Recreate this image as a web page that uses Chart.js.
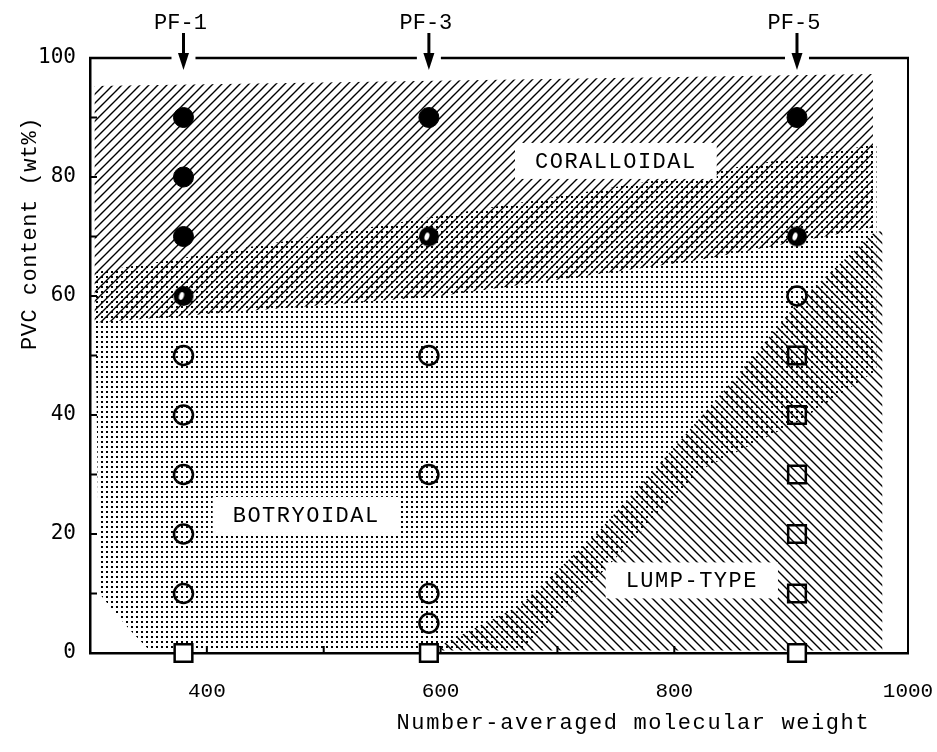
<!DOCTYPE html>
<html>
<head>
<meta charset="utf-8">
<title>PVC content vs molecular weight</title>
<script src="https://cdn.jsdelivr.net/npm/chart.js@4.4.1/dist/chart.umd.min.js"></script>
<style>
  html, body { margin: 0; padding: 0; background: #fff; }
  #wrap { width: 937px; height: 752px; }
</style>
</head>
<body>
<div id="wrap"><canvas id="chart"></canvas></div>
<script>
// grades and their number-averaged molecular weight
const grades = ['PF-1', 'PF-3', 'PF-5'];
const gradeWeights = [380, 590, 905];

// PVC content (wt%) of each sample, grouped by particle form
const coralloidalPvc = [[90, 80, 70], [90], [90]];
const transitionPvc = [[60], [70], [70]];
const botryoidalPvc = [[50, 40, 30, 20, 10], [50, 30, 10, 5], [60]];
const lumpPvc = [[0], [0], [50, 40, 30, 20, 10, 0]];

// axis labels
const xLabels = [400, 600, 800, 1000];
const yLabels = [0, 20, 40, 60, 80, 100];

// shaded regions, [molecular weight, wt%]
const coralloidalRegion = [[304, 95.3], [970, 97.3], [970, 71.5], [820, 66], [600, 60], [304, 55.5]];
const botryoidalRegion = [[304, 64], [973, 85.5], [973, 47.5], [907, 39], [822, 30.7], [736, 13.1], [668, 0.4], [351, 0.4], [334, 3.9], [321, 6.9], [308, 10]];
const lumpRegion = [[591, 0.4], [668, 8], [736, 20.6], [805, 35.7], [850, 45.8], [907, 59.2], [970, 70.5], [978, 71], [978, 0.4]];

// region names and where they sit
const regionNames = ['CORALLOIDAL', 'BOTRYOIDAL', 'LUMP-TYPE'];
const regionNameX = [750, 485, 815];
const regionNameY = [82.7, 23.2, 12.2];

const MONO = '"Liberation Mono", "DejaVu Sans Mono", monospace';

function toPoints(lists) {
    return lists.flatMap((vals, i) => vals.map(v => ({ x: gradeWeights[i], y: v })));
}

// 模式瓦片
function tile(size, draw) {
    const c = document.createElement('canvas');
    c.width = c.height = size;
    draw(c.getContext('2d'), size);
    return c;
}
const slashTile = tile(9, (g, s) => {
    g.strokeStyle = '#000';
    g.lineWidth = 1.4;
    g.beginPath();
    g.moveTo(-1, s + 1); g.lineTo(s + 1, -1);
    g.moveTo(-1, 1); g.lineTo(1, -1);
    g.moveTo(s - 1, s + 1); g.lineTo(s + 1, s - 1);
    g.stroke();
});
const backTile = tile(9, (g, s) => {
    g.strokeStyle = '#000';
    g.lineWidth = 1.4;
    g.beginPath();
    g.moveTo(-1, -1); g.lineTo(s + 1, s + 1);
    g.moveTo(s - 1, -1); g.lineTo(s + 1, 1);
    g.moveTo(-1, s - 1); g.lineTo(1, s + 1);
    g.stroke();
});
const dotTile = tile(5, (g) => {
    g.fillStyle = '#000';
    g.fillRect(1, 1, 2, 2);
});

// 半涂黑的点
const halfDot = tile(22, (g) => {
    g.fillStyle = '#000';
    g.beginPath(); g.arc(11, 11, 10, 0, Math.PI * 2); g.fill();
    g.fillStyle = '#fff';
    g.beginPath(); g.ellipse(9, 11, 2.3, 4, 0.3, 0, Math.PI * 2); g.fill();
});

function fillRegion(chart, region, pattern) {
    const { ctx, scales: { x, y } } = chart;
    ctx.beginPath();
    region.forEach(([vx, vy], i) => {
        const px = x.getPixelForValue(vx), py = y.getPixelForValue(vy);
        if (i === 0) ctx.moveTo(px, py); else ctx.lineTo(px, py);
    });
    ctx.closePath();
    ctx.fillStyle = pattern;
    ctx.fill();
}

const regionsPlugin = {
    id: 'regions',
    beforeDatasetsDraw(chart) {
        const { ctx, chartArea: a, scales: { x, y } } = chart;
        ctx.save();
        ctx.beginPath();
        ctx.rect(a.left, a.top, a.width, a.height);
        ctx.clip();
        fillRegion(chart, botryoidalRegion, ctx.createPattern(dotTile, 'repeat'));
        fillRegion(chart, coralloidalRegion, ctx.createPattern(slashTile, 'repeat'));
        fillRegion(chart, lumpRegion, ctx.createPattern(backTile, 'repeat'));

        // 区域名称
        ctx.font = '22px ' + MONO;
        ctx.letterSpacing = '1.5px';
        ctx.textAlign = 'center';
        ctx.textBaseline = 'middle';
        regionNames.forEach((name, i) => {
            const px = x.getPixelForValue(regionNameX[i]);
            const py = y.getPixelForValue(regionNameY[i]);
            const w = ctx.measureText(name).width;
            ctx.fillStyle = '#fff';
            ctx.fillRect(px - w / 2 - 20, py - 18, w + 40, 36);
            ctx.fillStyle = '#000';
            ctx.fillText(name, px, py + 1);
        });
        ctx.letterSpacing = '0px';

        // 内向刻度
        ctx.strokeStyle = '#000';
        ctx.lineWidth = 2;
        ctx.beginPath();
        x.ticks.forEach(t => {
            if (t.value <= x.min || t.value >= x.max) return;
            const px = x.getPixelForValue(t.value);
            ctx.moveTo(px, a.bottom);
            ctx.lineTo(px, a.bottom - 7);
        });
        y.ticks.forEach(t => {
            if (t.value <= y.min || t.value >= y.max) return;
            const py = y.getPixelForValue(t.value);
            ctx.moveTo(a.left, py);
            ctx.lineTo(a.left + 7, py);
        });
        ctx.stroke();
        ctx.restore();
    },
    afterDraw(chart) {
        const { ctx, chartArea: a, scales: { x, y } } = chart;
        ctx.save();
        ctx.strokeStyle = '#000';
        ctx.fillStyle = '#000';

        // 上边框 (箭头处留空)
        const arrowX = gradeWeights.map(w => x.getPixelForValue(w));
        ctx.lineWidth = 2.5;
        ctx.beginPath();
        let start = a.left - 1;
        arrowX.forEach(px => {
            ctx.moveTo(start, a.top);
            ctx.lineTo(px - 12, a.top);
            start = px + 12;
        });
        ctx.moveTo(start, a.top);
        ctx.lineTo(a.right + 1, a.top);
        ctx.stroke();
        ctx.lineWidth = 2;
        ctx.beginPath();
        ctx.moveTo(a.right, a.top);
        ctx.lineTo(a.right, a.bottom);
        ctx.stroke();

        // 箭头和试料名
        ctx.font = '22px ' + MONO;
        ctx.textAlign = 'center';
        ctx.textBaseline = 'middle';
        arrowX.forEach((px, i) => {
            ctx.lineWidth = 3;
            ctx.beginPath();
            ctx.moveTo(px, a.top - 25);
            ctx.lineTo(px, a.top - 2);
            ctx.stroke();
            ctx.beginPath();
            ctx.moveTo(px - 5.5, a.top - 5);
            ctx.lineTo(px + 5.5, a.top - 5);
            ctx.lineTo(px, a.top + 12);
            ctx.closePath();
            ctx.fill();
            ctx.fillText(grades[i], px - 3, a.top - 35);
        });

        // 轴标题
        ctx.letterSpacing = '1.6px';
        ctx.fillText('Number-averaged molecular weight', x.getPixelForValue(765), a.bottom + 70);
        ctx.letterSpacing = '0.5px';
        ctx.translate(30, y.getPixelForValue(70.5));
        ctx.rotate(-Math.PI / 2);
        ctx.fillText('PVC content (wt%)', 0, 0);
        ctx.restore();
    }
};

const chart = new Chart(document.getElementById('chart'), {
    type: 'scatter',
    data: {
        datasets: [
            {
                label: 'Coralloidal',
                data: toPoints(coralloidalPvc),
                pointStyle: 'circle',
                pointRadius: 10,
                backgroundColor: '#000',
                borderColor: '#000',
                borderWidth: 1
            },
            {
                label: 'Transition',
                data: toPoints(transitionPvc),
                pointStyle: halfDot,
                pointRadius: 10
            },
            {
                label: 'Botryoidal',
                data: toPoints(botryoidalPvc),
                pointStyle: 'circle',
                pointRadius: 9.5,
                backgroundColor: 'rgba(0,0,0,0)',
                borderColor: '#000',
                borderWidth: 2.5
            },
            {
                label: 'Lump-type',
                data: toPoints(lumpPvc),
                pointStyle: 'rect',
                pointRadius: 12.5,
                backgroundColor: (c) => c.raw && c.raw.y === 0 ? '#fff' : 'rgba(0,0,0,0)',
                borderColor: '#000',
                borderWidth: 2.5
            }
        ]
    },
    options: {
        responsive: true,
        maintainAspectRatio: false,
        animation: false,
        clip: false,
        layout: { padding: { top: 58, right: 29, left: 0, bottom: 0 } },
        plugins: {
            legend: { display: false },
            tooltip: { enabled: false }
        },
        scales: {
            x: {
                type: 'linear',
                min: 300,
                max: 1000,
                afterFit: (s) => { s.height = 99; },
                ticks: {
                    stepSize: 100,
                    autoSkip: false,
                    maxRotation: 0,
                    padding: 2,
                    color: '#000',
                    font: { family: MONO, size: 21 },
                    callback: (v) => xLabels.includes(v) ? String(v) : ''
                },
                // labels pushed down by an unseen tick length; inner ticks are drawn by the plugin
                grid: { display: false, drawTicks: true, tickLength: 24 },
                border: { display: true, color: '#000', width: 2.5 }
            },
            y: {
                type: 'linear',
                min: 0,
                max: 100,
                afterFit: (s) => { s.width = 90; },
                ticks: {
                    stepSize: 10,
                    autoSkip: false,
                    padding: 14,
                    color: '#000',
                    font: { family: '"DejaVu Sans Mono", monospace', size: 21 },
                    callback: (v) => yLabels.includes(v) ? String(v) : ''
                },
                grid: { display: false, drawTicks: false },
                border: { display: true, color: '#000', width: 2.5 }
            }
        }
    },
    plugins: [regionsPlugin]
});
</script>
</body>
</html>
